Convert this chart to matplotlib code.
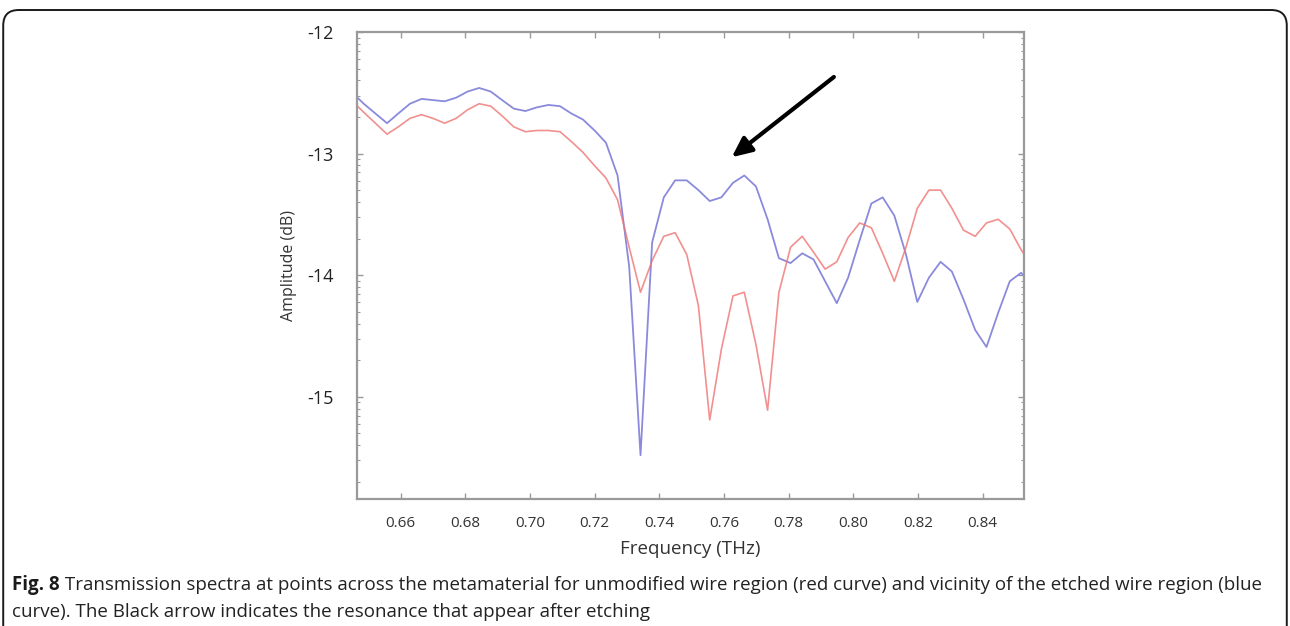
"""Transmission spectra across the metamaterial (Fig. 8)."""

import matplotlib
matplotlib.use("Agg")
import matplotlib.pyplot as plt
from matplotlib.patches import FancyBboxPatch
import numpy as np

# frequency samples (THz)
freq = [
    0.6451, 0.6486, 0.6522, 0.6558, 0.6593, 0.6629, 0.6665, 0.6700, 0.6736, 0.6772,
    0.6807, 0.6843, 0.6879, 0.6914, 0.6950, 0.6986, 0.7021, 0.7057, 0.7093, 0.7128,
    0.7164, 0.7200, 0.7235, 0.7271, 0.7307, 0.7342, 0.7378, 0.7414, 0.7449, 0.7485,
    0.7521, 0.7556, 0.7592, 0.7628, 0.7663, 0.7699, 0.7735, 0.7770, 0.7806, 0.7842,
    0.7877, 0.7913, 0.7949, 0.7984, 0.8020, 0.8056, 0.8091, 0.8127, 0.8163, 0.8198,
    0.8234, 0.8270, 0.8305, 0.8341, 0.8377, 0.8412, 0.8448, 0.8484, 0.8519, 0.8555,
]

# vicinity of the etched wire region (blue)
etched = [
    -12.50, -12.59, -12.67, -12.75, -12.67, -12.59, -12.55, -12.56, -12.57, -12.54,
    -12.49, -12.46, -12.49, -12.56, -12.63, -12.65, -12.62, -12.60, -12.61, -12.67,
    -12.72, -12.81, -12.91, -13.18, -13.93, -15.48, -13.73, -13.36, -13.22, -13.22,
    -13.30, -13.39, -13.36, -13.24, -13.18, -13.27, -13.54, -13.86, -13.90, -13.82,
    -13.87, -14.05, -14.23, -14.02, -13.71, -13.41, -13.36, -13.51, -13.83, -14.22,
    -14.02, -13.89, -13.97, -14.20, -14.45, -14.59, -14.31, -14.05, -13.98, -14.08,
]

# unmodified wire region (red)
unmodified = [
    -12.57, -12.66, -12.75, -12.84, -12.78, -12.71, -12.68, -12.71, -12.75, -12.71,
    -12.64, -12.59, -12.61, -12.69, -12.78, -12.82, -12.81, -12.81, -12.82, -12.90,
    -12.99, -13.10, -13.20, -13.38, -13.77, -14.14, -13.88, -13.68, -13.65, -13.83,
    -14.25, -15.19, -14.61, -14.17, -14.14, -14.57, -15.11, -14.14, -13.77, -13.68,
    -13.81, -13.95, -13.89, -13.69, -13.57, -13.61, -13.82, -14.05, -13.77, -13.45,
    -13.30, -13.30, -13.45, -13.63, -13.68, -13.57, -13.54, -13.62, -13.79, -13.94,
]

x_ticks = [0.66, 0.68, 0.70, 0.72, 0.74, 0.76, 0.78, 0.80, 0.82, 0.84]
y_ticks = [-15, -14, -13, -12]

arrow_tail = (0.7940, -12.37)
arrow_head = (0.7624, -13.03)

caption_bold = "Fig. 8"
caption_rest = (" Transmission spectra at points across the metamaterial for unmodified wire "
                "region (red curve) and vicinity of the etched wire region (blue")
caption_line2 = "curve). The Black arrow indicates the resonance that appear after etching"

plt.rcParams["font.family"] = ["Open Sans", "DejaVu Sans"]

fig = plt.figure(figsize=(12.9, 6.26), dpi=100)
fig.patch.set_facecolor("white")

# rounded frame around the whole figure (open at the bottom)
frame = FancyBboxPatch((0.0025, -0.2), 0.995, 1.184,
                       boxstyle="round,pad=0,rounding_size=0.012",
                       transform=fig.transFigure, fill=False,
                       edgecolor="#1a1a1a", linewidth=1.4, mutation_aspect=2.06)
fig.patches.append(frame)

ax = fig.add_axes([0.2767, 0.2029, 0.5171, 0.746])

ax.plot(freq, etched, color="#7676d8", linewidth=1.3, alpha=0.85)
ax.plot(freq, unmodified, color="#ef7474", linewidth=1.2, alpha=0.8)

ax.set_xlim(0.6465, 0.8528)
ax.set_ylim(-15.84, -12.0)

ax.set_xticks(x_ticks)
ax.set_xticklabels([f"{v:.2f}" for v in x_ticks])
ax.set_yticks(y_ticks)
ax.set_yticklabels([str(v) for v in y_ticks])

# log-style minor ticks in each unit interval
minor = []
for d in range(-16, -12):
    for k in range(2, 10):
        v = d + np.log10(k)
        if -15.84 < v < -12.0:
            minor.append(v)
ax.set_yticks(minor, minor=True)

for s in ax.spines.values():
    s.set_color("#9a9a9a")
    s.set_linewidth(1.6)

ax.tick_params(axis="both", which="major", direction="in", top=True, right=True,
               length=4, width=1.0, color="#9a9a9a")
ax.tick_params(axis="y", which="minor", direction="in", right=True,
               length=2.5, width=0.8, color="#9a9a9a")
ax.tick_params(axis="x", labelsize=11, pad=12, labelcolor="#333333")
ax.tick_params(axis="y", labelsize=13, pad=17, labelcolor="#222222")

ax.set_xlabel("Frequency (THz)", fontsize=13.5, color="#333333", labelpad=7)
ax.set_ylabel("Amplitude (dB)", fontsize=11.5, color="#333333", labelpad=7)

ax.annotate("", xy=arrow_head, xytext=arrow_tail,
            arrowprops=dict(arrowstyle="-|>,head_length=1.2,head_width=0.55",
                            color="black", linewidth=3.0, shrinkA=0, shrinkB=0))

# caption
cap_size = 13.5
t = fig.text(0.0093, 0.057, caption_bold, fontsize=cap_size, fontweight="bold",
             color="#1a1a1a", va="baseline")
fig.canvas.draw()
bb = t.get_window_extent()
fig.text(bb.x1 / fig.bbox.width, 0.057, caption_rest, fontsize=cap_size,
         color="#222222", va="baseline")
fig.text(0.0093, 0.015, caption_line2, fontsize=cap_size, color="#222222", va="baseline")

fig.savefig("out.png", dpi=100, facecolor="white")
